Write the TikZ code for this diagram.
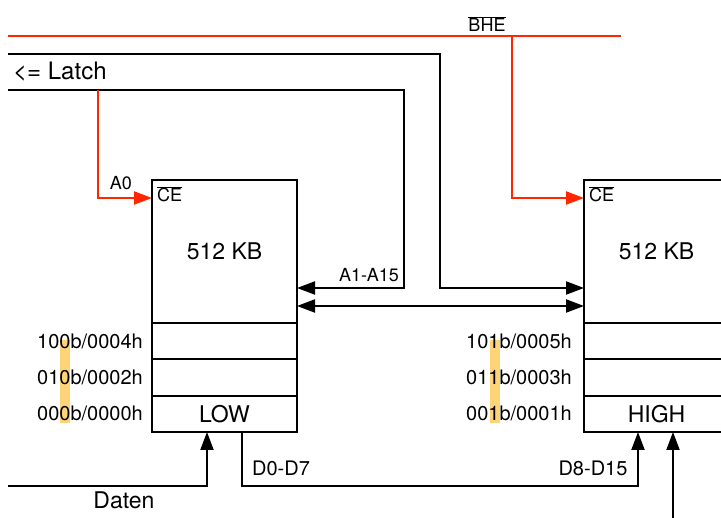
\documentclass[tikz,border=0pt]{standalone}
\usepackage{fontspec}
\setmainfont{TeX Gyre Heros}
\usetikzlibrary{arrows.meta}
\usetikzlibrary{positioning}
\definecolor{wirered}{RGB}{255,38,0}
\definecolor{bitmark}{RGB}{255,212,121}
\tikzset{
  wire/.style={line width=2.1pt},
  tip/.style={-{Triangle[length=18pt,width=13pt]}},
  memtop/.style={draw,line width=2.1pt,outer sep=0pt,minimum width=145pt,minimum height=143pt,inner sep=0pt,font=\fontsize{23}{27}\selectfont},
  cell/.style={draw,line width=2.1pt,outer sep=0pt,minimum width=145pt,minimum height=36.33pt,inner sep=0pt,font=\fontsize{23}{27}\selectfont},
  addr/.style={font=\fontsize{20}{24}\selectfont,inner sep=1pt},
  lbl/.style={font=\fontsize{18}{22}\selectfont,inner sep=1pt}
}
\begin{document}
\begin{tikzpicture}[x=1pt,y=-1pt]
\useasboundingbox (0,0) rectangle (721,518);
\fill[bitmark] (60,340) rectangle (70,423);
\fill[bitmark] (490,340) rectangle (500,423);

\node[memtop,anchor=north west] (lowmem) at (152,180) {512 KB};
\node[cell,below=0pt of lowmem] (low2) {};
\node[cell,below=0pt of low2] (low1) {};
\node[cell,below=0pt of low1] (low0) {LOW};
\node[memtop,anchor=north west] (highmem) at (584,180) {512 KB};
\node[cell,below=0pt of highmem] (high2) {};
\node[cell,below=0pt of high2] (high1) {};
\node[cell,below=0pt of high1] (high0) {HIGH};

\node[lbl,anchor=north west] (lowce) at ([xshift=4pt,yshift=-5pt]lowmem.north west) {$\overline{\mbox{CE}}$};
\node[lbl,anchor=north west] (highce) at ([xshift=4pt,yshift=-5pt]highmem.north west) {$\overline{\mbox{CE}}$};

\node[addr,left=8pt of low2] (a4) {100b/0004h};
\node[addr,left=8pt of low1] (a2) {010b/0002h};
\node[addr,left=8pt of low0] (a0) {000b/0000h};
\node[addr,left=11pt of high2] (a5) {101b/0005h};
\node[addr,left=11pt of high1] (a3) {011b/0003h};
\node[addr,left=11pt of high0] (a1) {001b/0001h};

% Bus lines from the left
\coordinate (bheL) at (8,36);
\coordinate (bheR) at (621,36);
\coordinate (bhetap) at (512,36);
\coordinate (busL) at (8,54);
\coordinate (latchL) at (8,90);
\coordinate (a0tap) at (98,90);
\draw[wire,wirered] (bheL) -- (bheR);
\node[lbl,anchor=south] (bhe) at (487,33) {$\overline{\mbox{BHE}}$};
\node[font=\fontsize{24}{28}\selectfont,anchor=west,inner sep=2pt] (latch) at (11,72) {<= Latch};

\draw[wire,tip] (busL) -| (440,288) -- ([yshift=-108pt]highmem.north west);
\draw[wire,tip] (latchL) -| (404,288) -- ([yshift=-108pt]lowmem.north east);
\node[lbl,anchor=south] (ahigh) at (369,283) {A1-A15};
\draw[wire,{Triangle[length=18pt,width=13pt]}-{Triangle[length=18pt,width=13pt]}] ([yshift=-126pt]lowmem.north east) -- ([yshift=-126pt]highmem.north west);

\draw[wire,wirered,tip] (a0tap) |- ([yshift=-18pt]lowmem.north west);
\node[lbl,anchor=south] (alow) at (121,191) {A0};
\draw[wire,wirered,tip] (bhetap) |- ([yshift=-18pt]highmem.north west);

% Data lines
\coordinate (datenL) at (8,486);
\coordinate (hibus) at (673,518);
\draw[wire,tip] (datenL) -| ([xshift=55pt]low0.south west);
\node[font=\fontsize{23}{27}\selectfont,inner sep=1pt] (daten) at (124,500) {Daten};
\draw[wire,tip] ([xshift=90pt]low0.south west) |- (638,486) -- ([xshift=54pt]high0.south west);
\node[addr] (dlow) at (281,468) {D0-D7};
\node[addr] (dhigh) at (593,468) {D8-D15};
\draw[wire,tip] (hibus) -- ([xshift=89pt]high0.south west);

\end{tikzpicture}
\end{document}
